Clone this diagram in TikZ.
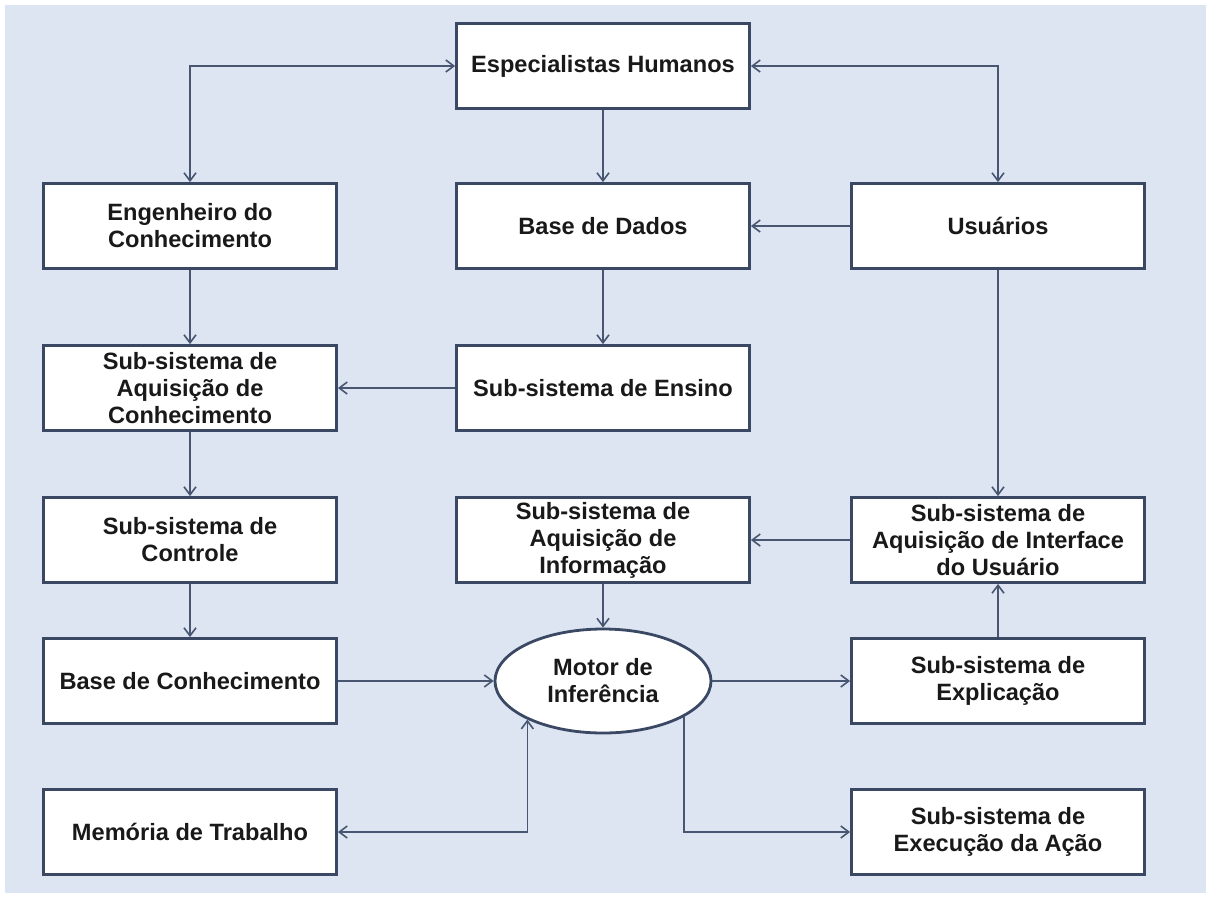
\documentclass[tikz,border=0pt]{standalone}
\usepackage{fontspec}
\setmainfont{Liberation Sans}
\usetikzlibrary{shapes.geometric,arrows.meta}
\definecolor{fundo}{RGB}{220,229,241}
\definecolor{borda}{RGB}{58,72,100}
\definecolor{linha}{RGB}{72,86,114}
\begin{document}
\begin{tikzpicture}[x=0.5pt,y=-0.5pt,>={Straight Barb[length=4pt,width=6pt]},
    caixa/.style={draw=borda,line width=1.4pt,fill=white,minimum width=146.5pt,minimum height=42.5pt,
      align=center,inner xsep=2pt,inner ysep=0.5pt,font=\fontsize{11.8}{13.5}\selectfont\bfseries,text=black!90},
    elipse/.style={caixa,ellipse,minimum width=108pt,minimum height=52pt,inner sep=0pt},
    seta/.style={->,draw=linha,line width=0.8pt}]
  \def\xe{190} \def\xm{603} \def\xd{998}
  \useasboundingbox (0,0) rectangle (1211,907);
  \fill[fundo] (5,5) rectangle (1206,893);
  % caixas
  \node[caixa] (especialistas) at (\xm,66) {Especialistas Humanos};
  \node[caixa] (engenheiro) at (\xe,226) {Engenheiro do\\Conhecimento};
  \node[caixa] (dados) at (\xm,226) {Base de Dados};
  \node[caixa] (usuarios) at (\xd,226) {Usuários};
  \node[caixa] (aquisicao) at (\xe,388) {Sub-sistema de\\Aquisição de\\Conhecimento};
  \node[caixa] (ensino) at (\xm,388) {Sub-sistema de Ensino};
  \node[caixa] (controle) at (\xe,540) {Sub-sistema de\\Controle};
  \node[caixa] (informacao) at (\xm,540) {Sub-sistema de\\Aquisição de\\Informação};
  \node[caixa] (interface) at (\xd,540) {Sub-sistema de\\Aquisição de Interface\\do Usuário};
  \node[caixa] (conhecimento) at (\xe,681) {Base de Conhecimento};
  \node[elipse] (motor) at (\xm,681) {Motor de\\Inferência};
  \node[caixa] (explicacao) at (\xd,681) {Sub-sistema de\\Explicação};
  \node[caixa] (memoria) at (\xe,832) {Memória de Trabalho};
  \node[caixa] (execucao) at (\xd,832) {Sub-sistema de\\Execução da Ação};
  % ligacoes
  \draw[seta,<->] (especialistas.west) -| (engenheiro.north);
  \draw[seta,<->] (especialistas.east) -| (usuarios.north);
  \draw[seta] (especialistas) -- (dados);
  \draw[seta] (usuarios) -- (dados);
  \draw[seta] (dados) -- (ensino);
  \draw[seta] (ensino) -- (aquisicao);
  \draw[seta] (engenheiro) -- (aquisicao);
  \draw[seta] (aquisicao) -- (controle);
  \draw[seta] (controle) -- (conhecimento);
  \draw[seta] (usuarios) -- (interface);
  \draw[seta] (interface) -- (informacao);
  \draw[seta] (informacao) -- (motor);
  \draw[seta] (conhecimento) -- (motor);
  \draw[seta] (motor) -- (explicacao);
  \draw[seta] (explicacao) -- (interface);
  \draw[seta] (motor.-24) |- (execucao);
  \draw[seta,<->] (memoria) -| (motor.-153);
\end{tikzpicture}
\end{document}
